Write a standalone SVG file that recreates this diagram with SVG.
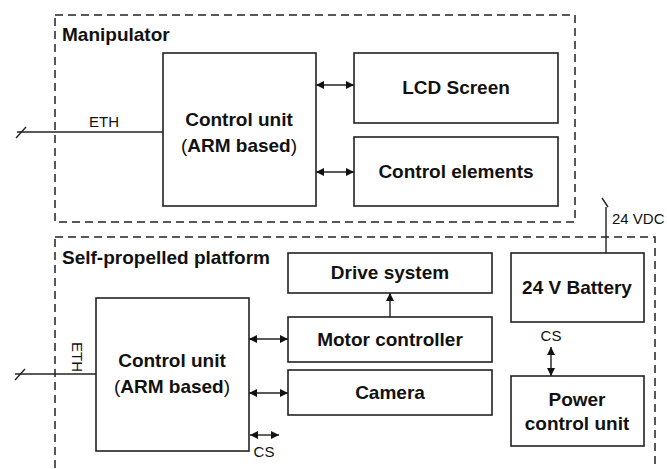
<svg xmlns="http://www.w3.org/2000/svg" width="667" height="469" viewBox="0 0 667 469">
<style>
.bg{fill:#fff}
.box{fill:#fff;stroke:#222;stroke-width:1.6}
.grp{fill:none;stroke:#222;stroke-width:1.5;stroke-dasharray:8 5}
.ln{fill:none;stroke:#222;stroke-width:1.4}
.t{font-family:"Liberation Sans",Arial,sans-serif;font-weight:bold;font-size:19px;fill:#111;text-anchor:middle}
.tl{font-family:"Liberation Sans",Arial,sans-serif;font-weight:bold;font-size:19px;fill:#111}
.s{font-family:"Liberation Sans",Arial,sans-serif;font-size:15px;fill:#111}
.n{font-weight:normal}
</style>
<defs>
<marker id="ah" viewBox="0 0 8 8" refX="8" refY="4" markerWidth="8" markerHeight="8" markerUnits="userSpaceOnUse" orient="auto-start-reverse">
<path d="M0,0 L8,4 L0,8 Z" fill="#111"/>
</marker>
</defs>
<rect class="bg" x="0" y="0" width="667" height="469"/>
<g id="manipulator">
<rect class="grp" x="55" y="15" width="520" height="207"/>
<text class="tl" x="62" y="41">Manipulator</text>
</g>
<g id="platform">
<rect class="grp" x="55" y="237" width="600" height="250"/>
<text class="tl" x="62" y="264">Self-propelled platform</text>
</g>
<g id="connectors">
<line class="ln" x1="17" y1="132" x2="163" y2="132"/>
<line class="ln" x1="16" y1="138" x2="26" y2="127"/>
<text class="s" x="104" y="127" text-anchor="middle">ETH</text>
<line class="ln" x1="316" y1="85" x2="354" y2="85" marker-start="url(#ah)" marker-end="url(#ah)"/>
<line class="ln" x1="316" y1="172" x2="354" y2="172" marker-start="url(#ah)" marker-end="url(#ah)"/>
<line class="ln" x1="606" y1="207" x2="606" y2="253"/>
<line class="ln" x1="602" y1="198" x2="608" y2="207"/>
<text class="s" x="612" y="224">24 VDC</text>
<line class="ln" x1="15" y1="374" x2="96" y2="374"/>
<line class="ln" x1="15" y1="380" x2="25" y2="369"/>
<text class="s" transform="translate(72,357) rotate(90)" text-anchor="middle">ETH</text>
<line class="ln" x1="249" y1="339" x2="288" y2="339" marker-start="url(#ah)" marker-end="url(#ah)"/>
<line class="ln" x1="249" y1="393" x2="288" y2="393" marker-start="url(#ah)" marker-end="url(#ah)"/>
<line class="ln" x1="250" y1="435" x2="279" y2="435" marker-start="url(#ah)" marker-end="url(#ah)"/>
<text class="s" x="264" y="457" text-anchor="middle">CS</text>
<line class="ln" x1="390" y1="317" x2="390" y2="293" marker-end="url(#ah)"/>
<line class="ln" x1="551" y1="347" x2="551" y2="376" marker-start="url(#ah)" marker-end="url(#ah)"/>
<text class="s" x="551" y="341" text-anchor="middle">CS</text>
</g>
<g id="cu-manip">
<rect class="box" x="163" y="53" width="153" height="153"/>
<text class="t" x="239" y="126">Control unit</text>
<text class="t" x="239" y="152"><tspan class="n">(</tspan>ARM based<tspan class="n">)</tspan></text>
</g>
<g id="lcd">
<rect class="box" x="354" y="53" width="204" height="70"/>
<text class="t" x="456" y="94">LCD Screen</text>
</g>
<g id="ctrl-elements">
<rect class="box" x="354" y="137" width="204" height="69"/>
<text class="t" x="456" y="178">Control elements</text>
</g>
<g id="cu-platform">
<rect class="box" x="96" y="298" width="153" height="153"/>
<text class="t" x="172" y="367">Control unit</text>
<text class="t" x="172" y="393"><tspan class="n">(</tspan>ARM based<tspan class="n">)</tspan></text>
</g>
<g id="drive">
<rect class="box" x="288" y="253" width="204" height="40"/>
<text class="t" x="390" y="279">Drive system</text>
</g>
<g id="motor">
<rect class="box" x="288" y="317" width="204" height="45"/>
<text class="t" x="390" y="346">Motor controller</text>
</g>
<g id="camera">
<rect class="box" x="288" y="370" width="204" height="45"/>
<text class="t" x="390" y="399">Camera</text>
</g>
<g id="battery">
<rect class="box" x="511" y="253" width="133" height="69"/>
<text class="t" x="577" y="294">24 V Battery</text>
</g>
<g id="pcu">
<rect class="box" x="511" y="376" width="133" height="70"/>
<text class="t" x="577" y="406">Power</text>
<text class="t" x="577" y="430">control unit</text>
</g>
</svg>
